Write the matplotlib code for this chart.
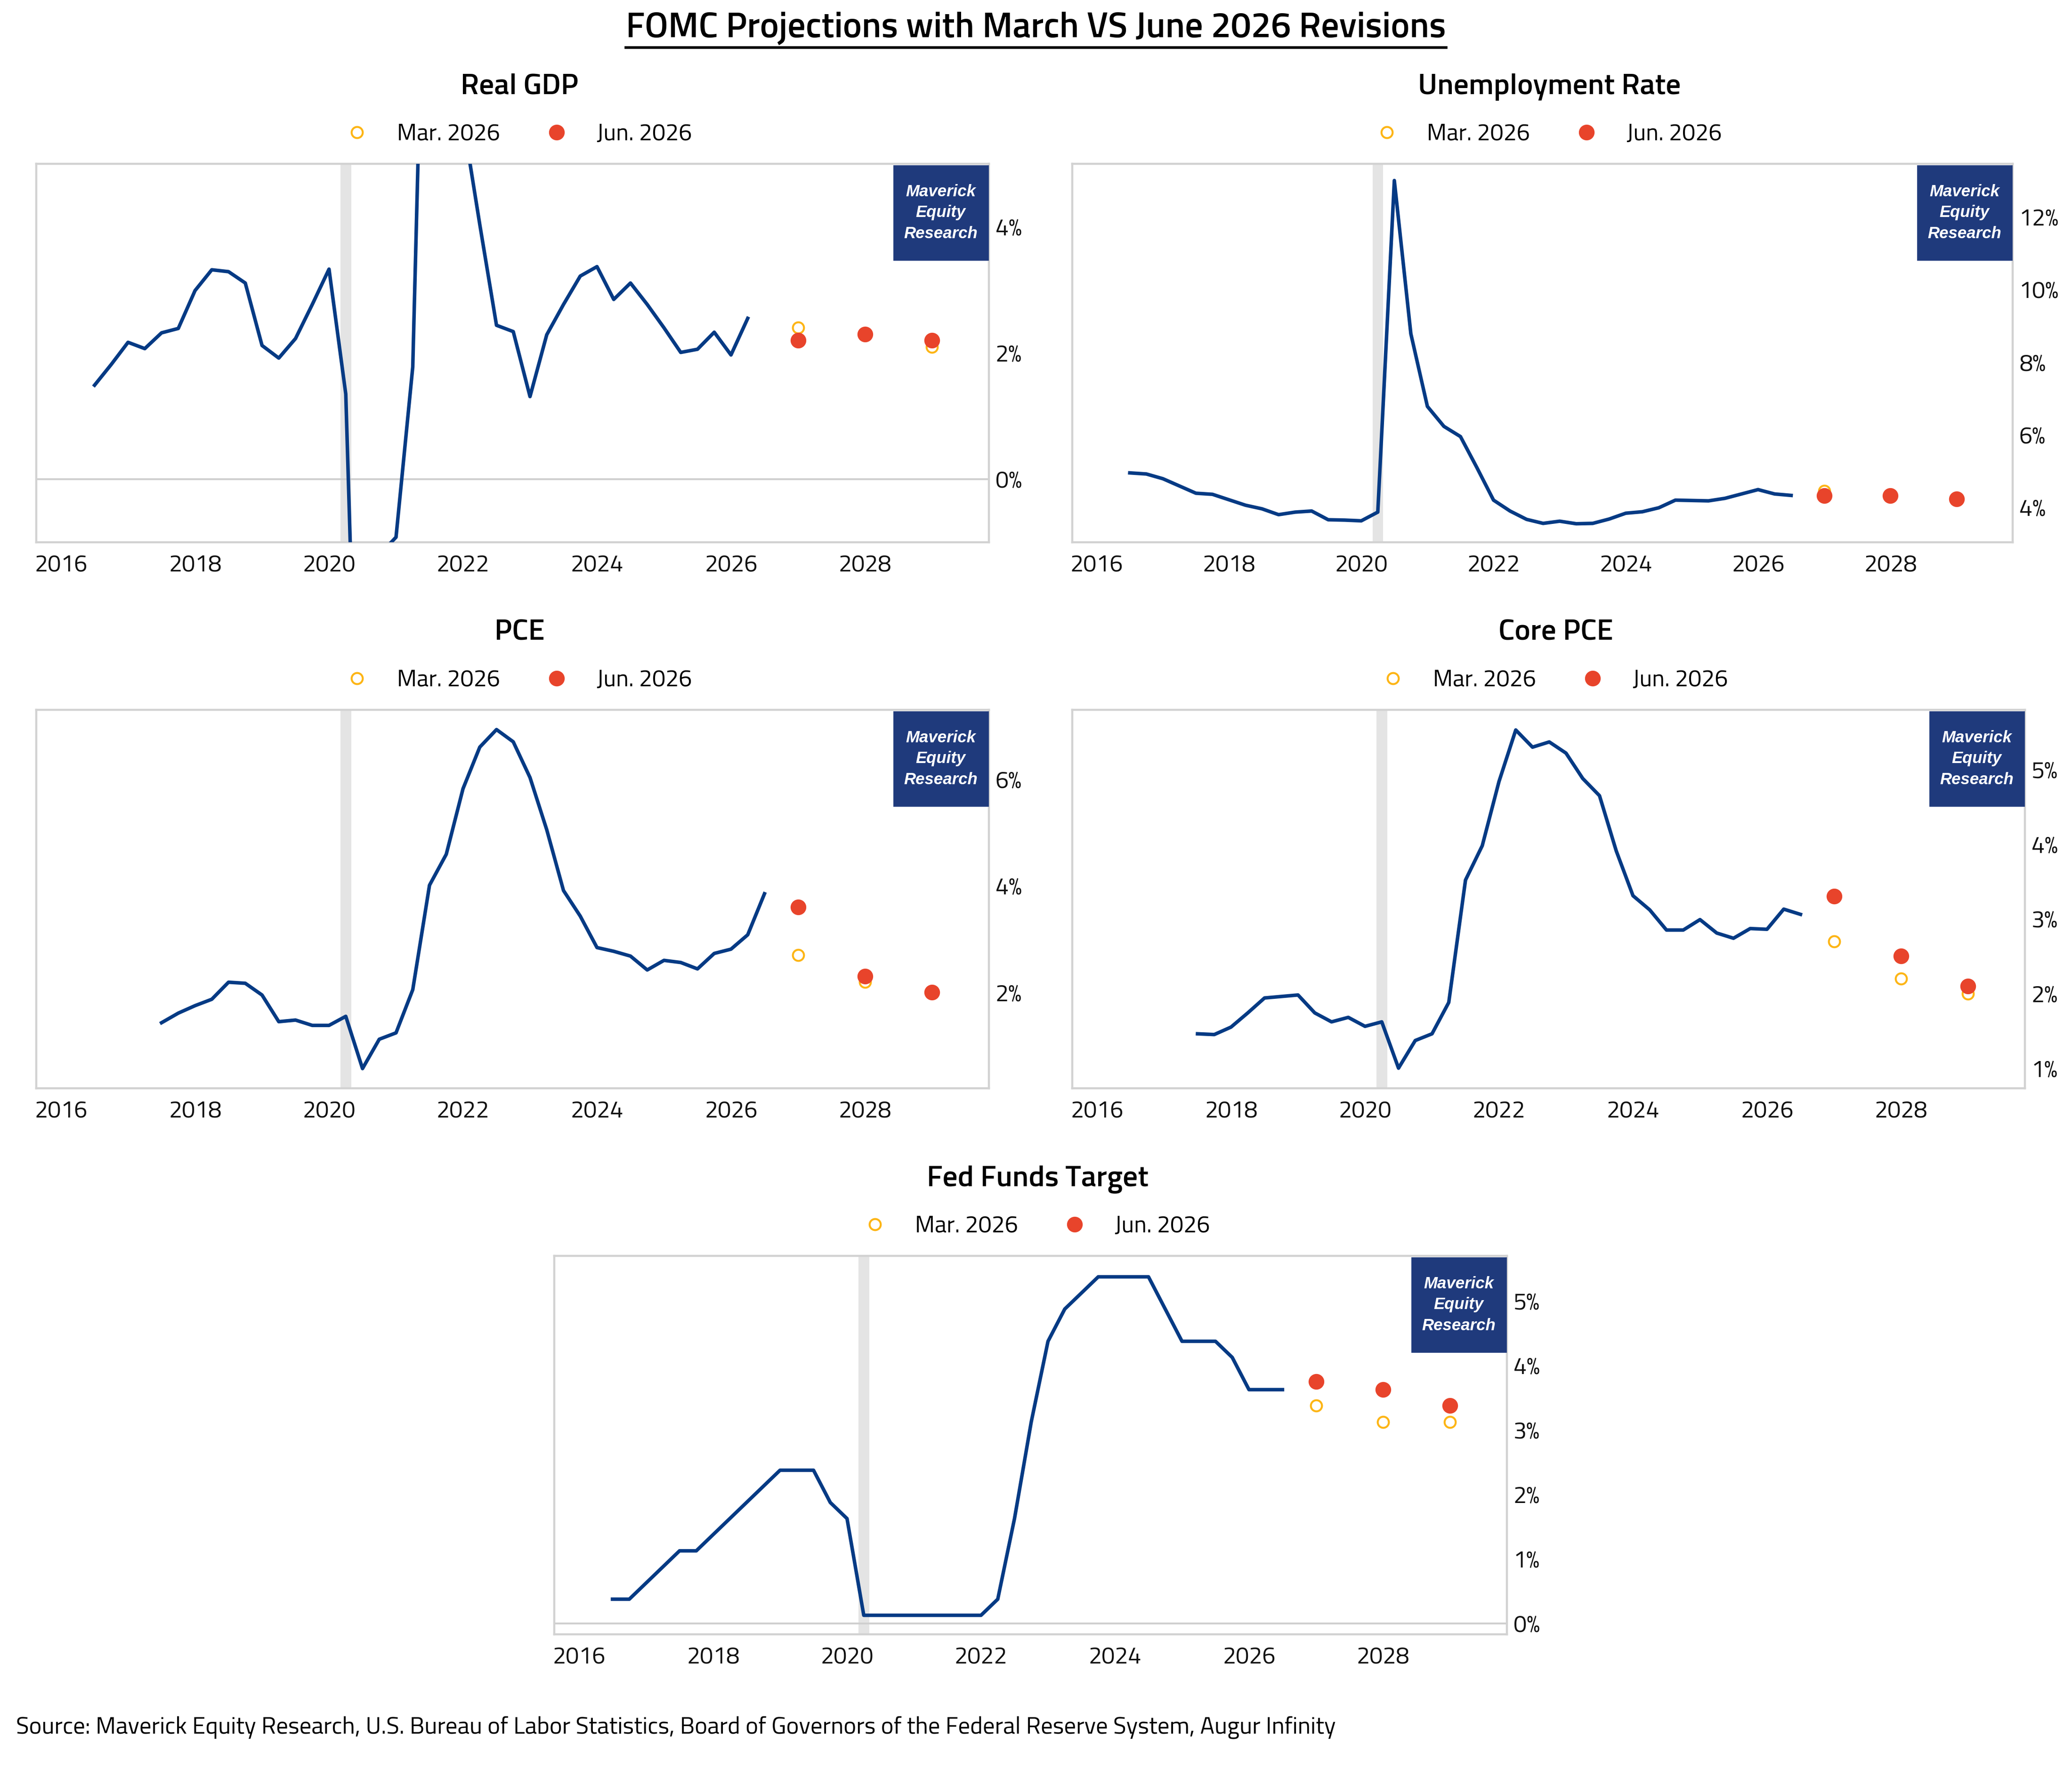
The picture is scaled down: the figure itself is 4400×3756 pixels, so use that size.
import numpy as np
import matplotlib
matplotlib.use("Agg")
import matplotlib.pyplot as plt
from matplotlib.patches import Rectangle
from matplotlib.lines import Line2D

plt.rcParams['font.family'] = ['Titillium Web', 'DejaVu Sans']

# ---- data (quarterly, x = year fraction of quarter end) ----
fc_years = [2027, 2028, 2029]

gdp_start = 2016.5
gdp = [1.49, 1.82, 2.17, 2.07, 2.32, 2.39, 2.99, 3.32, 3.29, 3.11,
       2.12, 1.92, 2.23, 2.77, 3.33, 1.35, -7.5, -1.2, -0.92, 1.78,
       12.2, 5.2, 5.7, 4.04, 2.44, 2.34, 1.31, 2.29, 2.77, 3.22,
       3.37, 2.85, 3.11, 2.77, 2.40, 2.01, 2.06, 2.33, 1.97, 2.55]
gdp_mar = [2.4, 2.3, 2.1]
gdp_jun = [2.2, 2.3, 2.2]

unemp_start = 2016.5
unemp = [4.95, 4.92, 4.79, 4.59, 4.39, 4.36, 4.21, 4.06, 3.96, 3.80,
         3.87, 3.90, 3.66, 3.65, 3.63, 3.87, 13.0, 8.78, 6.78, 6.23,
         5.95, 5.09, 4.2, 3.9, 3.67, 3.56, 3.62, 3.55, 3.56, 3.68,
         3.84, 3.88, 3.99, 4.2, 4.19, 4.18, 4.25, 4.37, 4.49, 4.37, 4.33]
unemp_mar = [4.45, 4.3, 4.2]
unemp_jun = [4.32, 4.32, 4.23]

pce_start = 2017.5
pce = [1.43, 1.61, 1.75, 1.87, 2.19, 2.17, 1.95, 1.45, 1.48, 1.38,
       1.38, 1.55, 0.57, 1.12, 1.24, 2.05, 4.01, 4.59, 5.82, 6.6,
       6.93, 6.7, 6.03, 5.05, 3.91, 3.43, 2.84, 2.77, 2.68, 2.42,
       2.60, 2.56, 2.44, 2.73, 2.81, 3.08, 3.85]
pce_mar = [2.7, 2.2, 2.0]
pce_jun = [3.6, 2.3, 2.0]

core_start = 2017.5
core = [1.46, 1.45, 1.55, 1.74, 1.94, 1.96, 1.98, 1.74, 1.62, 1.68,
        1.56, 1.62, 1.0, 1.37, 1.46, 1.88, 3.52, 3.98, 4.84, 5.53,
        5.30, 5.37, 5.22, 4.88, 4.65, 3.91, 3.31, 3.12, 2.85, 2.85,
        2.99, 2.81, 2.74, 2.87, 2.86, 3.13, 3.06]
core_mar = [2.7, 2.2, 2.0]
core_jun = [3.3, 2.5, 2.1]

ffr_start = 2016.5
ffr = [0.375, 0.375, 0.625, 0.875, 1.125, 1.125, 1.375, 1.625, 1.875, 2.125,
       2.375, 2.375, 2.375, 1.875, 1.625, 0.125, 0.125, 0.125, 0.125, 0.125,
       0.125, 0.125, 0.125, 0.375, 1.625, 3.125, 4.375, 4.875, 5.125, 5.375,
       5.375, 5.375, 5.375, 4.875, 4.375, 4.375, 4.375, 4.125, 3.625, 3.625, 3.625]
ffr_mar = [3.375, 3.125, 3.125]
ffr_jun = [3.75, 3.625, 3.375]

NAVY = '#053a84'
BOX = '#1f3a7c'
RED = '#e8442b'
ORANGE = '#fdb515'
SPINE = '#d2d2d2'

W, H, DPI = 4400, 3756, 200
fig = plt.figure(figsize=(W / DPI, H / DPI), dpi=DPI)


def panel(px, title, start, vals, mar, jun, ylim, yticks, zero=False):
    # px = (left, top, right, bottom) in pixels
    l, t, r, b = px
    aw, ah = r - l, b - t
    ax = fig.add_axes([l / W, 1 - b / H, aw / W, ah / H])
    ax.axvspan(2020.17, 2020.33, color='#e4e4e4', lw=0, zorder=0)
    if zero:
        ax.axhline(0, color='#cfcfcf', lw=1.4, zorder=1)
    xs = start + 0.25 * np.arange(len(vals))
    ax.plot(xs, vals, color=NAVY, lw=2.7, zorder=3)
    ax.plot(fc_years, mar, 'o', ms=8.5, mfc='none', mec=ORANGE, mew=1.5,
            zorder=4, label='Mar. 2026')
    ax.plot(fc_years, jun, 'o', ms=11, color=RED, zorder=5, label='Jun. 2026')

    ax.set_xlim(2015.63, 2029.85)
    ax.set_ylim(*ylim)
    ax.set_xticks(range(2016, 2029, 2))
    ax.set_yticks(yticks)
    ax.set_yticklabels([f"{v:g}%" for v in yticks])
    ax.yaxis.tick_right()
    ax.tick_params(length=0, labelsize=18, colors='#111111')
    ax.tick_params(axis='x', pad=9)
    ax.tick_params(axis='y', pad=5)
    for s in ax.spines.values():
        s.set_color(SPINE)
        s.set_linewidth(1.6)

    ax.text(0.5 + 15 / aw, 1 + 163 / ah, title, transform=ax.transAxes,
            ha='center', va='center', fontsize=22.8, weight='semibold')
    ax.legend(loc='center', bbox_to_anchor=(0.5, 1 + 63 / ah), ncol=2,
              frameon=False, fontsize=18, columnspacing=1.4,
              handletextpad=0.7, borderaxespad=0)

    bw, bh = 200 / aw, 200 / ah
    ax.add_patch(Rectangle((1 - 2 / aw - bw, 1 - 4 / ah - bh), bw, bh,
                           transform=ax.transAxes, color=BOX, zorder=6))
    ax.text(1 - 2 / aw - bw / 2, 1 - 4 / ah - bh / 2, "Maverick\nEquity\nResearch",
            transform=ax.transAxes, ha='center', va='center', color='white',
            fontsize=12.5, style='italic', weight='bold', linespacing=1.45,
            family=['Liberation Sans', 'DejaVu Sans'], zorder=7)
    return ax


panel((77, 348, 2100, 1152), "Real GDP", gdp_start, gdp, gdp_mar, gdp_jun,
      (-1, 5), [0, 2, 4], zero=True)
panel((2277, 348, 4274, 1152), "Unemployment Rate", unemp_start, unemp,
      unemp_mar, unemp_jun, (3.04, 13.46), [4, 6, 8, 10, 12])
panel((77, 1508, 2100, 2312), "PCE", pce_start, pce, pce_mar, pce_jun,
      (0.2, 7.3), [2, 4, 6])
panel((2277, 1508, 4300, 2312), "Core PCE", core_start, core, core_mar, core_jun,
      (0.73, 5.8), [1, 2, 3, 4, 5])
panel((1177, 2668, 3200, 3472), "Fed Funds Target", ffr_start, ffr, ffr_mar, ffr_jun,
      (-0.17, 5.7), [0, 1, 2, 3, 4, 5], zero=True)

title = fig.text(0.5, 1 - 60 / H, "FOMC Projections with March VS June 2026 Revisions",
                 ha='center', va='center', fontsize=27.3, weight='semibold')
fig.text(34 / W, 1 - 3670 / H,
         "Source: Maverick Equity Research, U.S. Bureau of Labor Statistics, "
         "Board of Governors of the Federal Reserve System, Augur Infinity",
         ha='left', va='center', fontsize=18.3)

# underline the main title
fig.canvas.draw()
bb = title.get_window_extent()
fig.add_artist(Line2D([bb.x0 / W, bb.x1 / W], [1 - 101 / H, 1 - 101 / H],
                      transform=fig.transFigure, color='black', lw=2.0))

fig.savefig("out.png", dpi=DPI)
